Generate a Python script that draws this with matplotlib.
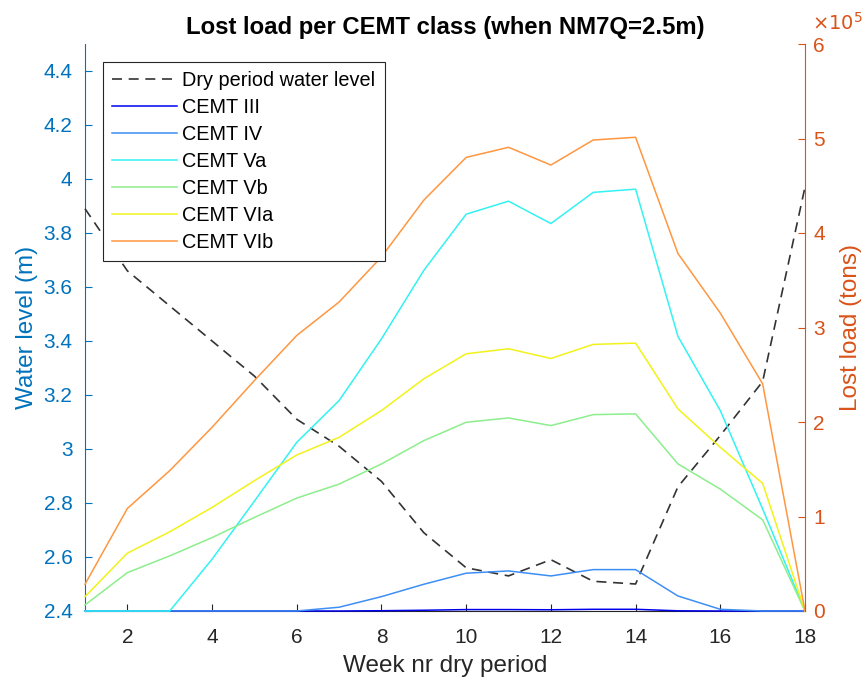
import matplotlib
matplotlib.use("Agg")
import matplotlib.pyplot as plt
from matplotlib.ticker import FuncFormatter, MultipleLocator

plt.rcParams['font.family'] = ['Liberation Sans', 'DejaVu Sans']

weeks = list(range(1, 19))
water_level = [3.89, 3.66, 3.53, 3.40, 3.27, 3.11, 3.01, 2.88, 2.69, 2.56,
               2.53, 2.59, 2.51, 2.50, 2.86, 3.05, 3.25, 3.97]

classes = ["CEMT III", "CEMT IV", "CEMT Va", "CEMT Vb", "CEMT VIa", "CEMT VIb"]
load_iii = [0, 0, 0, 0, 0, 0, 0, 300, 800, 1500, 1500, 1300, 1800, 1800, 200, 0, 0, 0]
load_iv = [0, 0, 0, 0, 0, 0, 4000, 15200, 28300, 40000, 42400, 37100, 43800, 43800,
           15900, 1800, 0, 0]
load_va = [0, 0, 0, 54800, 116300, 178500, 222700, 288000, 360500, 419900, 433700,
           410000, 443000, 446400, 290600, 212100, 108000, 0]
load_vb = [6400, 40600, 58300, 77700, 99000, 119500, 134300, 155600, 180300, 199700,
           204300, 196200, 207800, 208600, 155600, 129000, 96500, 0]
load_via = [15200, 61200, 83800, 109600, 137900, 165100, 183800, 212100, 245700, 272200,
            277500, 267200, 282100, 283500, 213900, 173200, 135000, 0]
load_vib = [28300, 108500, 148500, 194400, 243900, 291600, 327000, 374700, 434800, 480000,
            490700, 471900, 498400, 501300, 378300, 315300, 240400, 0]
loads = [load_iii, load_iv, load_va, load_vb, load_via, load_vib]
colors = ["#0000EE", "#3D8EF5", "#33F2F2", "#8CEE8C", "#F2F21A", "#FF9640"]

left_c = "#0072BD"
right_c = "#D95319"
axis_c = "#262626"

fig = plt.figure(figsize=(8.65, 6.84), dpi=100)
ax1 = fig.add_axes([85 / 865, 73 / 684, 720 / 865, 567 / 684])
ax2 = ax1.twinx()

# water level on the left axis
wl, = ax1.plot(weeks, water_level, color="#333333", lw=1.2,
               linestyle=(0, (6, 4)), clip_on=False, zorder=3)
ax1.set_xlim(1, 18)
ax1.set_ylim(2.4, 4.5)
ax1.yaxis.set_major_locator(MultipleLocator(0.2))
ax1.yaxis.set_major_formatter(FuncFormatter(lambda v, p: f"{v:g}"))
ax1.xaxis.set_major_locator(MultipleLocator(2))

# lost load per class on the right axis
handles = [wl]
for name, vals, c in zip(classes, loads, colors):
    h, = ax2.plot(weeks, vals, color=c, lw=1.1, clip_on=False, label=name)
    handles.append(h)
ax2.set_ylim(0, 6e5)
ax2.yaxis.set_major_locator(MultipleLocator(1e5))
ax2.yaxis.set_major_formatter(FuncFormatter(lambda v, p: f"{v / 1e5:g}"))

for ax in (ax1, ax2):
    ax.spines["top"].set_visible(False)
    ax.set_facecolor("none")
ax1.patch.set_facecolor("white")

ax1.spines["left"].set_color(left_c)
ax1.spines["bottom"].set_color(axis_c)
ax2.spines["right"].set_color(right_c)
ax1.spines["right"].set_visible(False)
ax2.spines["left"].set_visible(False)
ax2.spines["bottom"].set_visible(False)

ax1.tick_params(axis="y", colors=left_c, direction="in", length=5, labelsize=15, pad=9)
ax1.tick_params(axis="x", colors=axis_c, direction="in", length=5, labelsize=15, pad=12)
ax2.tick_params(axis="y", colors=right_c, direction="in", length=5, labelsize=15, pad=6)

ax1.set_xlabel("Week nr dry period", fontsize=17.5, color=axis_c, labelpad=6)
ax1.set_ylabel("Water level (m)", fontsize=17.5, color=left_c, labelpad=4)
ax2.set_ylabel("Lost load (tons)", fontsize=17.5, color=right_c, labelpad=11)
ax1.set_title("Lost load per CEMT class (when NM7Q=2.5m)", fontsize=17.2,
              fontweight="bold", color="black", pad=7)

fig.text(812 / 865, 1 - 30 / 684, r"$\times10^{5}$", color=right_c, fontsize=14,
         ha="left", va="baseline")

leg = ax2.legend(handles, ["Dry period water level"] + classes,
                 loc="upper left", bbox_to_anchor=(103 / 865, 1 - 62 / 684),
                 bbox_transform=fig.transFigure, borderaxespad=0, fontsize=14.3,
                 handlelength=3.3, handletextpad=0.25, labelspacing=0.4,
                 borderpad=0.45, fancybox=False, framealpha=1, edgecolor="#262626")
leg.get_frame().set_linewidth(0.8)

fig.savefig("out.png", dpi=100, facecolor="white")
